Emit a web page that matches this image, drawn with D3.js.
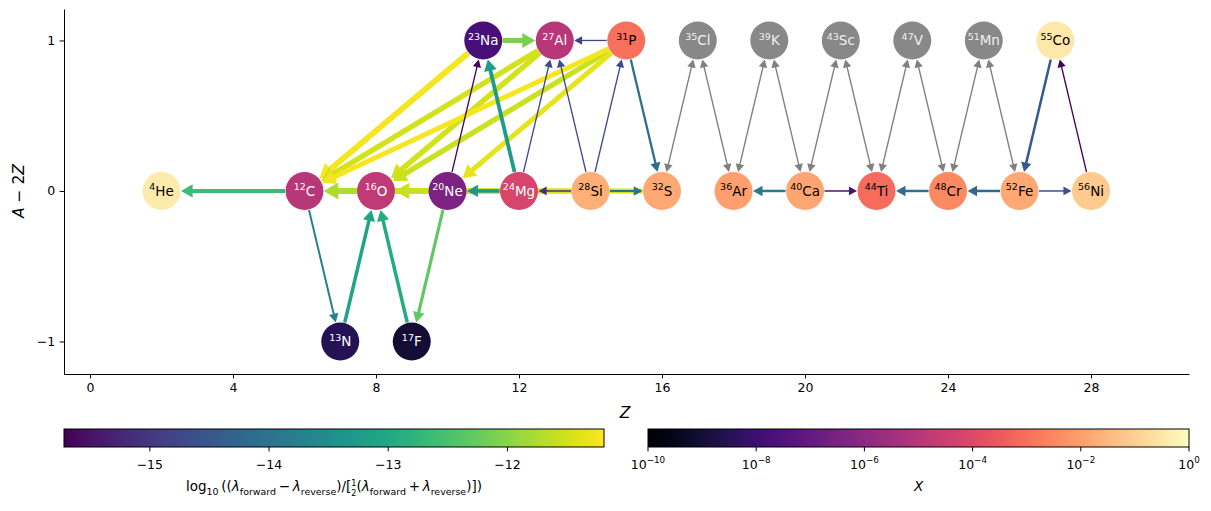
<!DOCTYPE html>
<html>
<head>
<meta charset="utf-8">
<script src="https://cdn.jsdelivr.net/npm/d3@7"></script>
<style>
  body { margin: 0; background: #fff; }
  text { font-family: "DejaVu Sans", sans-serif; fill: #000; }
</style>
</head>
<body>
<div id="vis"></div>
<script>
// ---- nuclei ----
const nuclei  = ["He4","C12","N13","O16","F17","Ne20","Na23","Mg24","Al27","Si28","P31","S32",
                 "Cl35","Ar36","K39","Ca40","Sc43","Ti44","V47","Cr48","Mn51","Fe52","Co55","Ni56"];
const symbols = ["He","C","N","O","F","Ne","Na","Mg","Al","Si","P","S",
                 "Cl","Ar","K","Ca","Sc","Ti","V","Cr","Mn","Fe","Co","Ni"];
const massA   = [4,12,13,16,17,20,23,24,27,28,31,32,35,36,39,40,43,44,47,48,51,52,55,56];
const chargeZ = [2,6,7,8,9,10,11,12,13,14,15,16,17,18,19,20,21,22,23,24,25,26,27,28];
// log10 of mass fraction X ; null = approximated nucleus (drawn grey)
const logX    = [-0.4,-5.0,-8.5,-4.8,-9.0,-6.4,-7.7,-4.2,-5.0,-1.7,-3.0,-1.8,
                 null,-2.0,null,-1.9,null,-3.1,null,-2.5,null,-1.8,-0.5,-1.1];

// ---- rate links ----
const edgeFrom   = ["Ne20","S32","Si28","Mg24","Na23","Al27","Al27","P31","P31","P31","O16","Ne20",
                    "Na23","C12","Mg24","N13","F17","Ne20","Mg24","Ca40","Cr48","Fe52","Co55","P31",
                    "Si28","C12","Ne20","P31","Mg24","Si28","Si28","Si28","Ca40","Fe52","Ni56"];
const edgeTo     = ["C12","O16","O16","O16","C12","C12","O16","C12","O16","Ne20","C12","O16",
                    "Al27","He4","Na23","O16","O16","F17","Ne20","Ar36","Ti44","Cr48","Fe52","S32",
                    "S32","N13","Na23","Al27","Al27","Al27","P31","Mg24","Ti44","Ni56","Co55"];
// log10((lambda_f - lambda_r) / [0.5 (lambda_f + lambda_r)])
const edgeMetric = [-11.55,-11.5,-11.45,-11.55,-11.25,-11.5,-11.5,-11.25,-11.55,-11.35,-11.75,-11.65,
                    -12.1,-12.64,-13.25,-13.1,-12.95,-12.32,-13.3,-13.9,-14.1,-14.2,-14.45,-14.1,
                    -14.0,-13.75,-15.65,-14.8,-14.7,-14.7,-14.7,-15.1,-15.5,-14.6,-15.7];
// relative flow through the link (sets line width)
const edgeFlow   = [6,5,5,5,6,5.5,5.5,5,5.5,5,5.5,5.5,
                    5,4,3.8,3.5,3.5,3.2,3.5,2.5,2.5,2.5,2.5,2.3,
                    2,2,1.3,1.3,1.3,1.3,1.3,1.5,1.5,1.5,1.3];

// approximate (alpha,p)(p,gamma) links through grey nuclei
const approxFrom = ["S32","Cl35","Ar36","K39","Ca40","Sc43","Ti44","V47","Cr48","Mn51"];
const approxTo   = ["Cl35","Ar36","K39","Ca40","Sc43","Ti44","V47","Cr48","Mn51","Fe52"];

const xTicks = [0,4,8,12,16,20,24,28];
const yTicks = [-1,0,1];
const metricTicks = [-15,-14,-13,-12];
const metricDomain = [-15.72,-11.19];
const logXTicks = [-10,-8,-6,-4,-2,0];
const logXDomain = [-10,0];

const ctx = { w: 1211, h: 511, nodeR: 19, fs: 12.5 };

const svg = d3.select("#vis").append("svg").attr("width", ctx.w).attr("height", ctx.h);

const x = d3.scaleLinear().domain([-0.727, 30.74]).range([64, 1189]);
const y = d3.scaleLinear().domain([-1.216, 1.209]).range([374, 9]);
const edgeColor = d3.scaleSequential(d3.interpolateViridis).domain(metricDomain);
const nodeColor = d3.scaleSequential(d3.interpolateMagma).domain(logXDomain);
const widthScale = d3.scaleLinear().domain([0, 6]).range([0, 6]);

const nodes = nuclei.map((n, i) => ({
  name: n, sym: symbols[i], A: massA[i], Z: chargeZ[i], N: massA[i] - 2*chargeZ[i], lx: logX[i]
}));
const byName = new Map(nodes.map(d => [d.name, d]));
const pos = n => [x(byName.get(n).Z), y(byName.get(n).N)];

// ---- axes ----
const xAxis = svg.append("g").attr("transform", "translate(0,374)")
  .call(d3.axisBottom(x).tickValues(xTicks).tickSize(4.4).tickSizeOuter(0).tickPadding(4.4));
const yAxis = svg.append("g").attr("transform", "translate(64,0)")
  .call(d3.axisLeft(y).tickValues(yTicks).tickFormat(d3.format("d"))
    .tickSize(4.4).tickSizeOuter(0).tickPadding(4.4));
[xAxis, yAxis].forEach(a => {
  a.selectAll("text").style("font-size", ctx.fs + "px").style("font-family", "DejaVu Sans");
  a.select(".domain").attr("stroke-width", 1);
});

svg.append("text").attr("x", 625).attr("y", 417.5).attr("text-anchor", "middle")
  .style("font-size", "15.5px").style("font-style", "italic").text("Z");
const yl = svg.append("text").attr("transform", "translate(24,191) rotate(-90)")
  .attr("text-anchor", "middle").style("font-size", "15.5px");
yl.append("tspan").style("font-style", "italic").text("A");
yl.append("tspan").text(" − 2");
yl.append("tspan").style("font-style", "italic").text("Z");

// ---- links ----
function arrow(g, s, t, color, lw, both) {
  const dx = t[0]-s[0], dy = t[1]-s[1], len = Math.hypot(dx, dy);
  const ux = dx/len, uy = dy/len;
  const r = ctx.nodeR + 0.5;
  const p0 = [s[0]+ux*r, s[1]+uy*r], p1 = [t[0]-ux*r, t[1]-uy*r];
  const hl = 6 + 1.4*lw, hw = 3 + 0.9*lw;
  const a = both ? [p0[0]+ux*hl*0.8, p0[1]+uy*hl*0.8] : p0;
  const b = [p1[0]-ux*hl*0.8, p1[1]-uy*hl*0.8];
  g.append("line").attr("x1", a[0]).attr("y1", a[1]).attr("x2", b[0]).attr("y2", b[1])
    .attr("stroke", color).attr("stroke-width", lw);
  const head = (tip, sx, sy) => {
    const bx = tip[0] - sx*hl, by = tip[1] - sy*hl;
    g.append("path")
      .attr("d", `M${tip[0]},${tip[1]}L${bx - sy*hw},${by + sx*hw}L${bx + sy*hw},${by - sx*hw}Z`)
      .attr("fill", color);
  };
  head(p1, ux, uy);
  if (both) head(p0, -ux, -uy);
}

const edgeG = svg.append("g");
const edges = edgeFrom.map((f, i) => ({ f: f, t: edgeTo[i], m: edgeMetric[i], w: edgeFlow[i] }))
  .sort((a, b) => b.w - a.w);
edges.forEach(e => arrow(edgeG, pos(e.f), pos(e.t), edgeColor(e.m), widthScale(e.w), false));
approxFrom.forEach((f, i) => arrow(edgeG, pos(f), pos(approxTo[i]), "#808080", 1.4, true));

// ---- nuclei ----
const nodeG = svg.append("g").selectAll("g").data(nodes).enter().append("g")
  .attr("transform", d => `translate(${x(d.Z)},${y(d.N)})`);
nodeG.append("circle").attr("r", ctx.nodeR)
  .attr("fill", d => d.lx === null ? "#888888" : nodeColor(d.lx));
const lab = nodeG.append("text").attr("text-anchor", "middle").attr("y", 5)
  .style("font-size", "13.5px")
  .style("fill", d => d.lx === null ? "#f0f0f0" : (d.lx < -3.5 ? "#ffffff" : "#000000"));
lab.append("tspan").attr("dy", -5.5).style("font-size", "9.5px").text(d => d.A);
lab.append("tspan").attr("dy", 5.5).text(d => d.sym);

// ---- colorbars ----
function mathText(sel, parts, fs) {
  let shift = 0;
  parts.forEach(([t, k]) => {
    const ts = sel.append("tspan").text(t);
    let target = 0;
    if (k === "sub") { target = fs*0.3; ts.style("font-size", fs*0.7 + "px"); }
    if (k === "sup") { target = -fs*0.45; ts.style("font-size", fs*0.7 + "px"); }
    if (k === "num") { target = -fs*0.38; ts.style("font-size", fs*0.6 + "px"); }
    if (k === "den") { target = fs*0.35; ts.style("font-size", fs*0.6 + "px").attr("dx", -fs*0.6*0.636); }
    if (k === "i") ts.style("font-style", "italic");
    ts.attr("dy", target - shift);
    shift = target;
  });
}

function colorbar(id, x0, x1, interp, domain, ticks, fmt, label, lfs) {
  const y0 = 429, y1 = 447;
  const grad = svg.append("defs").append("linearGradient").attr("id", id);
  d3.range(0, 1.0001, 0.02).forEach(t => {
    grad.append("stop").attr("offset", t).attr("stop-color", interp(t));
  });
  svg.append("rect").attr("x", x0).attr("y", y0).attr("width", x1 - x0).attr("height", y1 - y0)
    .attr("fill", `url(#${id})`).attr("stroke", "#000").attr("stroke-width", 1);
  const s = d3.scaleLinear().domain(domain).range([x0, x1]);
  const g = svg.append("g");
  ticks.forEach(v => {
    g.append("line").attr("x1", s(v)).attr("x2", s(v)).attr("y1", y1).attr("y2", y1 + 4.4)
      .attr("stroke", "#000").attr("stroke-width", 1);
    const t = g.append("text").attr("x", s(v)).attr("y", 469).attr("text-anchor", "middle")
      .style("font-size", ctx.fs + "px");
    fmt(t, v);
  });
  const lt = svg.append("text").attr("x", (x0 + x1)/2).attr("y", 491).attr("text-anchor", "middle")
    .style("font-size", lfs + "px");
  mathText(lt, label, lfs);
}

colorbar("gradMetric", 64, 604, d3.interpolateViridis, metricDomain, metricTicks,
  (t, v) => t.text(d3.format("d")(v)),
  [["log",""],["10","sub"],["\u2009((",""],["λ","i"],["forward","sub"],["\u2009−\u2009",""],["λ","i"],["reverse","sub"],
   [")/[",""],["1","num"],["2","den"],["(",""],["λ","i"],["forward","sub"],["\u2009+\u2009",""],["λ","i"],
   ["reverse","sub"],[")])",""]], 13.5);

colorbar("gradX", 648, 1189, d3.interpolateMagma, logXDomain, logXTicks,
  (t, v) => mathText(t, [["10",""],[v === 0 ? "0" : "−" + Math.abs(v), "sup"]], ctx.fs),
  [["X","i"]], 13.5);
</script>
</body>
</html>
